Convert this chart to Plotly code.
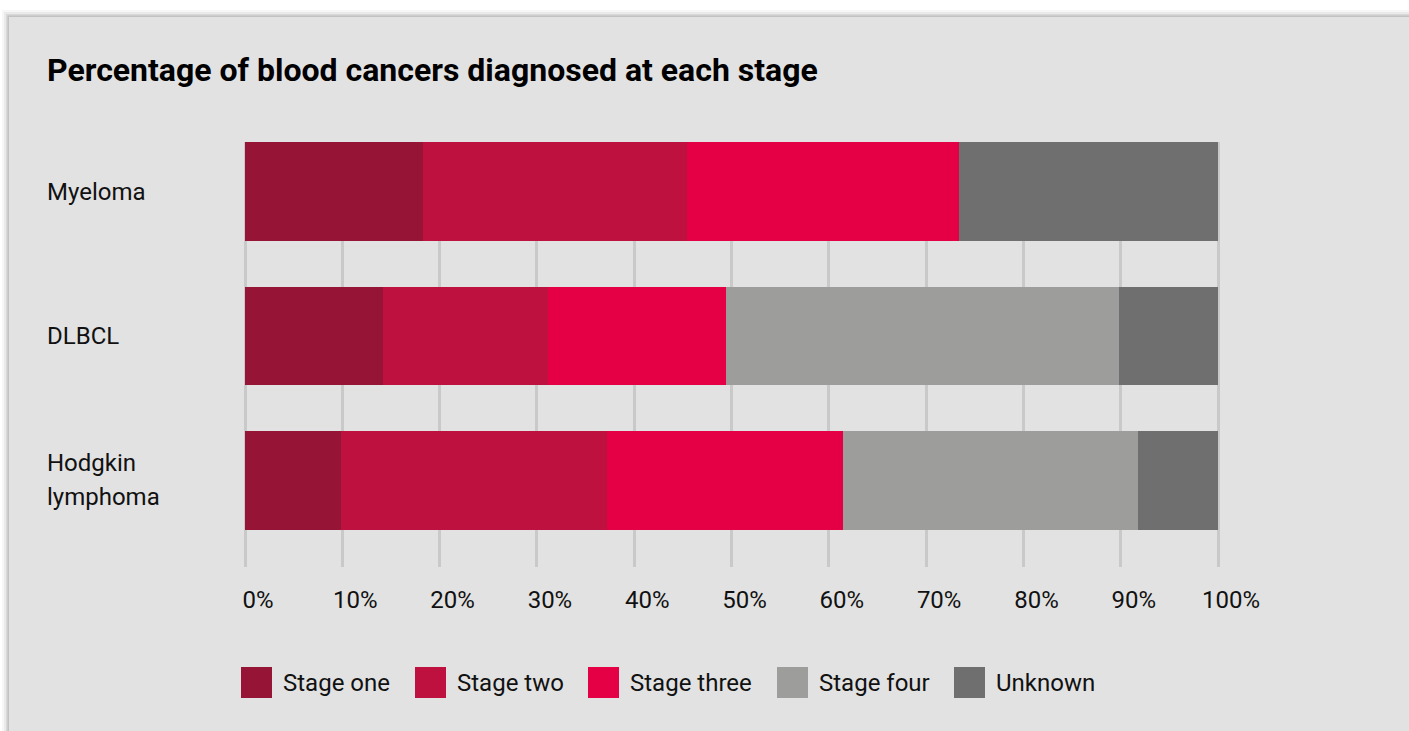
import plotly.graph_objects as go

# ---------------- data ----------------
categories = ["Myeloma", "DLBCL", "Hodgkin lymphoma"]
category_labels = [["Myeloma"], ["DLBCL"], ["Hodgkin", "lymphoma"]]
stages = ["Stage one", "Stage two", "Stage three", "Stage four", "Unknown"]
stage_one = [18.3, 14.2, 9.9]
stage_two = [27.1, 16.9, 27.3]
stage_three = [28.0, 18.3, 24.3]
stage_four = [0.0, 40.4, 30.3]
unknown = [26.6, 10.2, 8.2]
tick_vals = [0, 10, 20, 30, 40, 50, 60, 70, 80, 90, 100]
tick_text = ["0%", "10%", "20%", "30%", "40%", "50%", "60%", "70%", "80%", "90%", "100%"]

# ---------------- styles ----------------
colors = ["#961536", "#bf113f", "#e50045", "#9d9d9b", "#6f6f6f"]
FONT = "Roboto, 'Open Sans', sans-serif"
CARD = "#e2e2e2"
W, H = 1409, 731
ML, MR, MT, MB = 245, 188, 142, 164
PW, PH = W - ML - MR, H - MT - MB
LINE_GAP = 34


def px2x(px):
    return (px - ML) / PW


def py2y(py):
    return 1 - (py - MT) / PH


series = [stage_one, stage_two, stage_three, stage_four, unknown]

fig = go.Figure()
for name, vals, col in zip(stages, series, colors):
    fig.add_trace(go.Bar(
        y=categories, x=vals, name=name, orientation="h",
        marker=dict(color=col, line=dict(width=0)),
        showlegend=False, hoverinfo="x+y+name",
    ))

shapes = []
# card shadow + card
for off, op in [(7, 0.03), (5, 0.05), (3, 0.07), (1.5, 0.10)]:
    shapes.append(dict(type="rect", xref="paper", yref="paper", layer="below",
                       x0=px2x(9 - off), x1=px2x(W + 40), y0=py2y(H + 40), y1=py2y(17 - off),
                       fillcolor=f"rgba(0,0,0,{op})", line=dict(width=0)))
shapes.append(dict(type="rect", xref="paper", yref="paper", layer="below",
                   x0=px2x(9), x1=px2x(W + 40), y0=py2y(H + 40), y1=py2y(17),
                   fillcolor=CARD, line=dict(width=0)))

annotations = []
# title
annotations.append(dict(text="Percentage of blood cancers diagnosed at each stage",
                        xref="paper", yref="paper", x=px2x(45), y=py2y(70),
                        xanchor="left", yanchor="middle", showarrow=False,
                        font=dict(family=FONT, size=32, color="#000000", weight=700)))
# category labels
for cat, lines in zip(categories, category_labels):
    n = len(lines)
    for i, line in enumerate(lines):
        shift = ((n - 1) / 2 - i) * LINE_GAP
        annotations.append(dict(text=line, xref="paper", yref="y", x=px2x(45), y=cat,
                                yshift=shift, xanchor="left", yanchor="middle",
                                showarrow=False,
                                font=dict(family=FONT, size=24, color="#111111")))

# custom legend
legend_px = [241, 415, 588, 777, 954]
for name, col, lx in zip(stages, colors, legend_px):
    shapes.append(dict(type="rect", xref="paper", yref="paper", layer="above",
                       x0=px2x(lx), x1=px2x(lx + 31), y0=py2y(698), y1=py2y(667),
                       fillcolor=col, line=dict(width=0)))
    annotations.append(dict(text=name, xref="paper", yref="paper", x=px2x(lx + 40), y=py2y(682.5),
                            xanchor="left", yanchor="middle", showarrow=False,
                            font=dict(family=FONT, size=24, color="#111111")))

fig.update_layout(
    width=W, height=H,
    margin=dict(l=ML, r=MR, t=MT, b=MB, autoexpand=False),
    paper_bgcolor="#ffffff", plot_bgcolor="rgba(0,0,0,0)",
    barmode="stack", bargap=0.315,
    showlegend=False,
    shapes=shapes, annotations=annotations,
    xaxis=dict(range=[0, 100.3], tickvals=tick_vals, ticktext=tick_text,
               showgrid=True, gridcolor="#c9c9c9", gridwidth=2.5,
               zeroline=True, zerolinecolor="#c9c9c9", zerolinewidth=2.5,
               showline=False, ticks="", ticklabelshift=13, ticklabelstandoff=16,
               tickfont=dict(family=FONT, size=24, color="#111111"), fixedrange=True),
    yaxis=dict(categoryorder="array", categoryarray=categories[::-1],
               range=[-0.599, 2.343], showticklabels=False, showgrid=False,
               zeroline=False, showline=False, ticks="", fixedrange=True),
)

fig.write_html("out.html")
